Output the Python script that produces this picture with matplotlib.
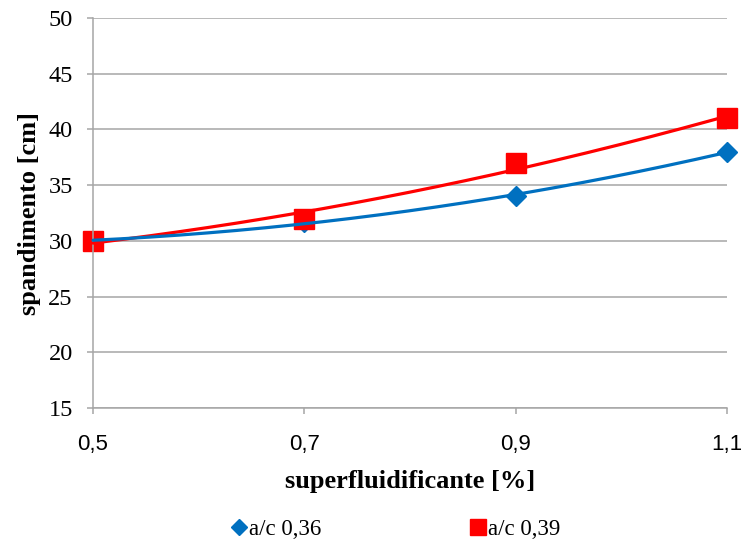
import numpy as np
import matplotlib
matplotlib.use("Agg")
import matplotlib.pyplot as plt
from matplotlib.lines import Line2D
from matplotlib.ticker import FixedLocator, FuncFormatter

# Superplasticizer dosage [%] and measured slump flow [cm]
dosage = [0.5, 0.7, 0.9, 1.1]
flow_036 = [30.0, 31.7, 34.0, 38.0]
flow_039 = [30.0, 32.0, 37.0, 41.0]
series_labels = ["a/c 0,36", "a/c 0,39"]
x_ticks = [0.5, 0.7, 0.9, 1.1]
y_ticks = [15, 20, 25, 30, 35, 40, 45, 50]

BLUE = "#0070C0"
RED = "#FF0000"
GRID = "#A6A6A6"
SERIF = "Liberation Serif"
SANS = "Liberation Sans"

fig = plt.figure(figsize=(7.42, 5.49), dpi=100)
ax = fig.add_axes([0.1253, 0.2568, 0.8545, 0.7104])

xs = np.linspace(min(dosage), max(dosage), 200)

# Data points
ax.plot(dosage, flow_036, linestyle="none", marker="D", markersize=10.5,
        color=BLUE, zorder=2, clip_on=False)
ax.plot(dosage, flow_039, linestyle="none", marker="s", markersize=14.5,
        color=RED, zorder=2.1, clip_on=False)

# Second-order polynomial trend lines
for vals, col, z in [(flow_039, RED, 3), (flow_036, BLUE, 3.1)]:
    coef = np.polyfit(dosage, vals, 2)
    ax.plot(xs, np.polyval(coef, xs), color=col, linewidth=2.3, zorder=z,
            solid_capstyle="round", clip_on=False)

ax.set_xlim(0.5, 1.1)
ax.set_ylim(15, 50)
ax.xaxis.set_major_locator(FixedLocator(x_ticks))
ax.yaxis.set_major_locator(FixedLocator(y_ticks))
ax.xaxis.set_major_formatter(FuncFormatter(lambda v, p: f"{v:.1f}".replace(".", ",")))
ax.yaxis.set_major_formatter(FuncFormatter(lambda v, p: f"{v:.0f}"))

for s in ["top", "right"]:
    ax.spines[s].set_visible(False)
for s in ["left", "bottom"]:
    ax.spines[s].set_color(GRID)
    ax.spines[s].set_linewidth(1.1)

ax.grid(axis="y", color=GRID, linewidth=1.1, zorder=0)
ax.set_axisbelow(True)
ax.tick_params(axis="both", direction="out", length=4.5, width=1.1, color=GRID)
ax.tick_params(axis="y", pad=10)
ax.tick_params(axis="x", pad=14)

for lab in ax.get_yticklabels():
    lab.set_fontfamily(SERIF)
    lab.set_fontsize(17.5)
for lab in ax.get_xticklabels():
    lab.set_fontfamily(SANS)
    lab.set_fontsize(16)

ax.set_xlabel("superfluidificante [%]", fontfamily=SERIF, fontweight="bold",
              fontsize=19, labelpad=11)
ax.set_ylabel("spandimento [cm]", fontfamily=SERIF, fontweight="bold",
              fontsize=19, labelpad=5)

handles = [
    Line2D([], [], linestyle="none", marker="D", markersize=8, color=BLUE),
    Line2D([], [], linestyle="none", marker="s", markersize=12, color=RED),
]
fig.legend(handles, series_labels, loc="center", bbox_to_anchor=(0.534, 0.035),
           ncol=2, frameon=False, prop={"family": SERIF, "size": 16.5},
           handlelength=0.6, handletextpad=0.15, columnspacing=6.55,
           borderaxespad=0)

fig.savefig("out.png", dpi=100)
